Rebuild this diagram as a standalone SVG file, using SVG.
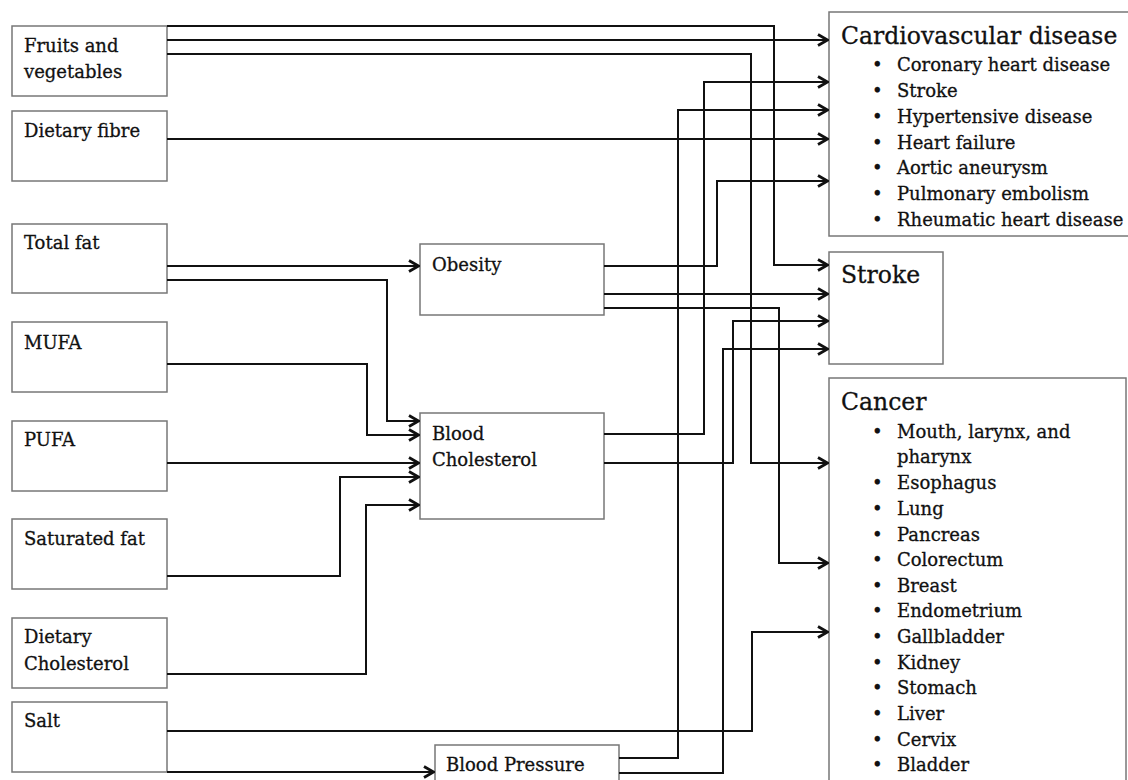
<svg xmlns="http://www.w3.org/2000/svg" width="1128" height="780" viewBox="0 0 1128 780">
<defs>
<style>
.box{fill:#fff;stroke:#777;stroke-width:1.5}
.t{font-family:"DejaVu Serif","Liberation Serif",serif;font-size:18px;fill:#111;stroke:#111;stroke-width:0.3}
.h{font-family:"DejaVu Serif","Liberation Serif",serif;font-size:23.5px;fill:#111;stroke:#111;stroke-width:0.3}
.c{fill:none;stroke:#111;stroke-width:2;stroke-linejoin:miter}
</style>
<marker id="arr" viewBox="0 0 12 14" refX="11" refY="7" markerWidth="12" markerHeight="14" markerUnits="userSpaceOnUse" orient="auto">
<path d="M1,1.5 L10.5,7 L1,12.5" fill="none" stroke="#111" stroke-width="2.8"/>
</marker>
</defs>
<rect width="1128" height="780" fill="#fff"/>

<g id="fruits"><rect class="box" x="12" y="26" width="155" height="70"/><text class="t" x="24" y="52">Fruits and</text><text class="t" x="24" y="78">vegetables</text></g>
<g id="fibre"><rect class="box" x="12" y="111" width="155" height="70"/><text class="t" x="24" y="137">Dietary fibre</text></g>
<g id="totalfat"><rect class="box" x="12" y="224" width="155" height="69"/><text class="t" x="24" y="249">Total fat</text></g>
<g id="mufa"><rect class="box" x="12" y="322" width="155" height="70"/><text class="t" x="24" y="349">MUFA</text></g>
<g id="pufa"><rect class="box" x="12" y="421" width="155" height="70"/><text class="t" x="24" y="446">PUFA</text></g>
<g id="satfat"><rect class="box" x="12" y="519" width="155" height="70"/><text class="t" x="24" y="545">Saturated fat</text></g>
<g id="dietchol"><rect class="box" x="12" y="618" width="155" height="70"/><text class="t" x="24" y="643">Dietary</text><text class="t" x="24" y="670">Cholesterol</text></g>
<g id="salt"><rect class="box" x="12" y="702" width="155" height="70"/><text class="t" x="24" y="727">Salt</text></g>
<g id="obesity"><rect class="box" x="420" y="244" width="184" height="71"/><text class="t" x="432" y="271">Obesity</text></g>
<g id="bloodchol"><rect class="box" x="420" y="413" width="184" height="106"/><text class="t" x="432" y="440">Blood</text><text class="t" x="432" y="466">Cholesterol</text></g>
<g id="bloodpressure"><rect class="box" x="435" y="745" width="184" height="45"/><text class="t" x="446" y="771">Blood Pressure</text></g>

<g id="cvd"><rect class="box" x="829" y="12" width="310" height="224"/>
<text class="h" x="841" y="44">Cardiovascular disease</text>
<g class="t">
<text x="872" y="71">•</text><text x="897" y="71">Coronary heart disease</text>
<text x="872" y="97">•</text><text x="897" y="97">Stroke</text>
<text x="872" y="123">•</text><text x="897" y="123">Hypertensive disease</text>
<text x="872" y="149">•</text><text x="897" y="149">Heart failure</text>
<text x="872" y="174">•</text><text x="897" y="174">Aortic aneurysm</text>
<text x="872" y="200">•</text><text x="897" y="200">Pulmonary embolism</text>
<text x="872" y="226">•</text><text x="897" y="226">Rheumatic heart disease</text>
</g></g>
<g id="stroke"><rect class="box" x="829" y="252" width="114" height="112"/><text class="h" x="841" y="283">Stroke</text></g>
<g id="cancer"><rect class="box" x="829" y="378" width="297" height="420"/>
<text class="h" x="841" y="410">Cancer</text>
<g class="t">
<text x="872" y="438">•</text><text x="897" y="438">Mouth, larynx, and</text>
<text x="897" y="463">pharynx</text>
<text x="872" y="489">•</text><text x="897" y="489">Esophagus</text>
<text x="872" y="515">•</text><text x="897" y="515">Lung</text>
<text x="872" y="541">•</text><text x="897" y="541">Pancreas</text>
<text x="872" y="566">•</text><text x="897" y="566">Colorectum</text>
<text x="872" y="592">•</text><text x="897" y="592">Breast</text>
<text x="872" y="617">•</text><text x="897" y="617">Endometrium</text>
<text x="872" y="643">•</text><text x="897" y="643">Gallbladder</text>
<text x="872" y="669">•</text><text x="897" y="669">Kidney</text>
<text x="872" y="694">•</text><text x="897" y="694">Stomach</text>
<text x="872" y="720">•</text><text x="897" y="720">Liver</text>
<text x="872" y="746">•</text><text x="897" y="746">Cervix</text>
<text x="872" y="771">•</text><text x="897" y="771">Bladder</text>
</g></g>

<g id="connectors" class="c">
<polyline class="c" marker-end="url(#arr)" points="167,26 774,26 774,265 828,265"/>
<polyline class="c" marker-end="url(#arr)" points="167,40 828,40"/>
<polyline class="c" marker-end="url(#arr)" points="167,54 751,54 751,463 828,463"/>
<polyline class="c" marker-end="url(#arr)" points="167,139 828,139"/>
<polyline class="c" marker-end="url(#arr)" points="167,266 419,266"/>
<polyline class="c" marker-end="url(#arr)" points="167,280 387,280 387,421 419,421"/>
<polyline class="c" marker-end="url(#arr)" points="167,364 367,364 367,435 419,435"/>
<polyline class="c" marker-end="url(#arr)" points="167,463 419,463"/>
<polyline class="c" marker-end="url(#arr)" points="167,576 340,576 340,477 419,477"/>
<polyline class="c" marker-end="url(#arr)" points="167,674 366,674 366,505 419,505"/>
<polyline class="c" marker-end="url(#arr)" points="167,772 434,772"/>
<polyline class="c" marker-end="url(#arr)" points="167,731 752,731 752,632 828,632"/>
<polyline class="c" marker-end="url(#arr)" points="604,266 717,266 717,181 828,181"/>
<polyline class="c" marker-end="url(#arr)" points="604,294 828,294"/>
<polyline class="c" marker-end="url(#arr)" points="604,308 779,308 779,563 828,563"/>
<polyline class="c" marker-end="url(#arr)" points="604,434 704,434 704,82 828,82"/>
<polyline class="c" marker-end="url(#arr)" points="604,463 733,463 733,321 828,321"/>
<polyline class="c" marker-end="url(#arr)" points="619,758 678,758 678,110 828,110"/>
<polyline class="c" marker-end="url(#arr)" points="619,773 723,773 723,349 828,349"/>
</g>
</svg>
